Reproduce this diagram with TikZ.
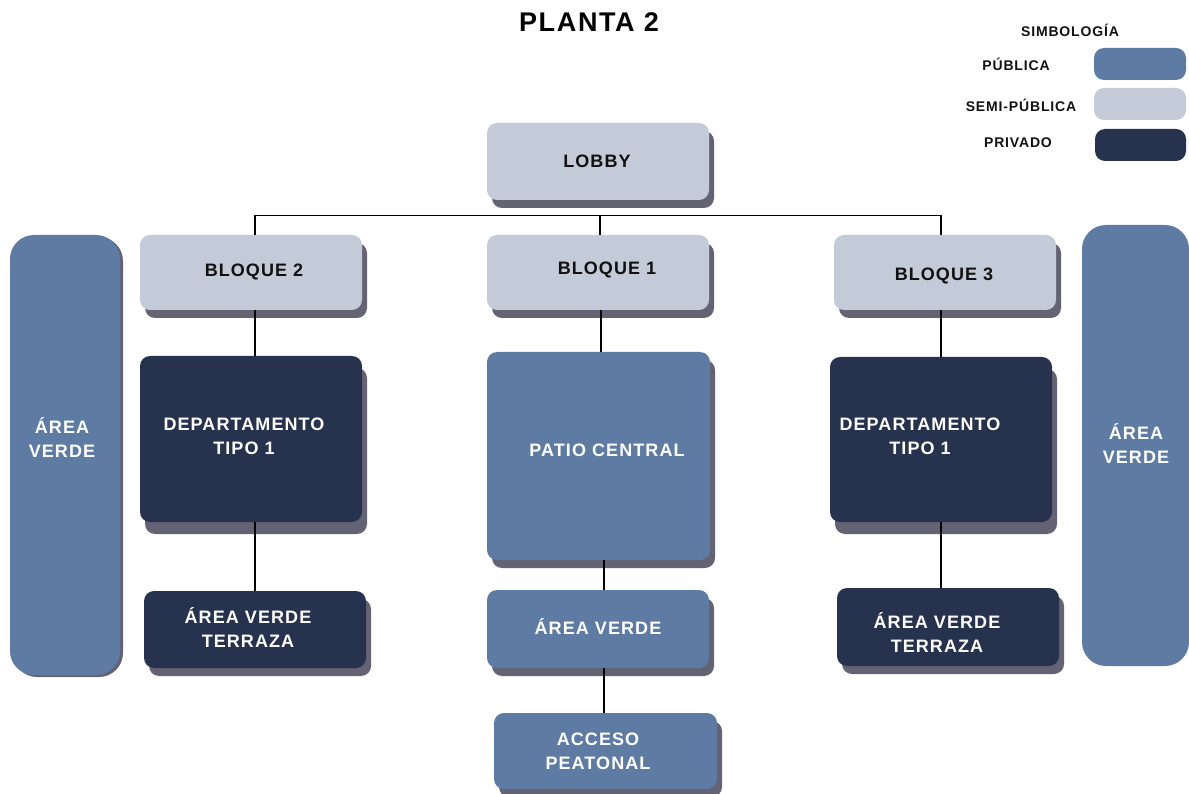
\documentclass[tikz,border=0pt]{standalone}
\usepackage{fontspec}
\setmainfont{Liberation Sans}[LetterSpace=6]
\usetikzlibrary{shadows}
\definecolor{pubc}{RGB}{94,124,163}
\definecolor{semic}{RGB}{195,202,216}
\definecolor{privc}{RGB}{39,51,78}
\definecolor{shadc}{RGB}{100,99,115}
\definecolor{txtd}{RGB}{17,17,17}
\tikzset{
  box/.style={rounded corners=10pt, inner sep=0pt, draw=none},
  shad/.style={drop shadow={shadow xshift=#1, shadow yshift=-8pt, fill=shadc, opacity=1}},
  shad/.default=5pt,
  pub/.style={box, fill=pubc},
  semi/.style={box, fill=semic},
  priv/.style={box, fill=privc},
  lab/.style={font=\bfseries\fontsize{18}{24}\selectfont, align=center, inner sep=0pt},
  labw/.style={lab, text=white},
  labd/.style={lab, text=txtd},
  leg/.style={font=\bfseries\fontsize{14}{16}\selectfont, text=txtd, inner sep=0pt},
  conn/.style={draw=black, line width=1.1pt}
}
\begin{document}
\begin{tikzpicture}[x=1pt, y=-1pt]
\useasboundingbox (0,0) rectangle (1189,794);
\fill[white] (0,0) rectangle (1189,794);

% title and legend
\node[font=\bfseries\fontsize{27}{30}\selectfont, inner sep=0pt] (title) at (589,22) {PLANTA 2};
\node[leg] (simb) at (1070,30) {SIMBOLOGÍA};
\node[leg] (lpub) at (1016,64) {PÚBLICA};
\node[leg] (lsemi) at (1021,105) {SEMI-PÚBLICA};
\node[leg] (lpriv) at (1018,143) {PRIVADO};
\node[pub, minimum width=92pt, minimum height=32pt] (kpub) at (1140,64) {};
\node[semi, minimum width=92pt, minimum height=32pt] (ksemi) at (1140,104) {};
\node[priv, minimum width=91pt, minimum height=32pt] (kpriv) at (1140.5,145) {};

% boxes
\node[semi, shad, minimum width=222pt, minimum height=77pt] (lobby) at (598,161.5) {};
\node[semi, shad, minimum width=222pt, minimum height=75pt] (bloque2) at (251,272.5) {};
\node[semi, shad, minimum width=222pt, minimum height=75pt] (bloque1) at (598,272.5) {};
\node[semi, shad, minimum width=222pt, minimum height=75pt] (bloque3) at (945,272.5) {};
\node[pub, rounded corners=24pt, drop shadow={shadow xshift=3pt, shadow yshift=-2pt, fill=shadc, opacity=1}, minimum width=110pt, minimum height=440pt] (avl) at (65,455) {};
\node[pub, rounded corners=24pt, minimum width=107pt, minimum height=441pt] (avr) at (1135.5,445.5) {};
\node[priv, drop shadow={shadow xshift=5pt, shadow yshift=-12pt, fill=shadc, opacity=1}, minimum width=222pt, minimum height=166pt] (deptoL) at (251,439) {};
\node[pub, shad, minimum width=223pt, minimum height=208pt] (patio) at (598.5,456) {};
\node[priv, drop shadow={shadow xshift=5pt, shadow yshift=-12pt, fill=shadc, opacity=1}, minimum width=222pt, minimum height=165pt] (deptoR) at (941,439.5) {};
\node[priv, shad, minimum width=222pt, minimum height=77pt] (terrL) at (255,629.5) {};
\node[pub, shad, minimum width=222pt, minimum height=78pt] (avc) at (598,629) {};
\node[priv, shad, minimum width=222pt, minimum height=78pt] (terrR) at (948,627) {};
\node[pub, shad, minimum width=223pt, minimum height=76pt] (acceso) at (605.5,751) {};

% connectors
\draw[conn] ([xshift=4pt]bloque2.north) -- ([xshift=4pt, yshift=19pt]bloque2.north) -| ([xshift=-4pt]bloque3.north);
\draw[conn] ([xshift=2pt]bloque1.north) -- ([xshift=2pt, yshift=19pt]bloque1.north);
\draw[conn] ([xshift=4pt]bloque2.south) -- ([xshift=4pt]deptoL.north);
\draw[conn] (terrL.north) -- (terrL.north |- deptoL.south);
\draw[conn] ([xshift=3pt]bloque1.south) -- ([xshift=3pt]bloque1.south |- patio.north);
\draw[conn] ([xshift=6pt]avc.north) -- ([xshift=6pt]avc.north |- patio.south);
\draw[conn] ([xshift=-1.5pt]acceso.north) -- ([xshift=-1.5pt]acceso.north |- avc.south);
\draw[conn] (deptoR.north) -- (deptoR.north |- bloque3.south);
\draw[conn] (deptoR.south) -- (deptoR.south |- terrR.north);

% texts
\node[labd] (tlobby) at (597,161) {LOBBY};
\node[labd] (tb2) at (254,272) {BLOQUE 2};
\node[labd] (tb1) at (607,270) {BLOQUE 1};
\node[labd] (tb3) at (944,276) {BLOQUE 3};
\node[labw] (tavl) at (62,438) {ÁREA\\VERDE};
\node[labw] (tavr) at (1136,444) {ÁREA\\VERDE};
\node[labw] (tdl) at (244,436) {DEPARTAMENTO\\TIPO 1};
\node[labw] (tpatio) at (607,450) {PATIO CENTRAL};
\node[labw] (tdr) at (920,436) {DEPARTAMENTO\\TIPO 1};
\node[labw] (ttl) at (248,628) {ÁREA VERDE\\TERRAZA};
\node[labw] (tavc) at (598,627) {ÁREA VERDE};
\node[labw] (ttr) at (937,633) {ÁREA VERDE\\TERRAZA};
\node[labw] (tacc) at (598,751) {ACCESO\\PEATONAL};
\end{tikzpicture}
\end{document}
